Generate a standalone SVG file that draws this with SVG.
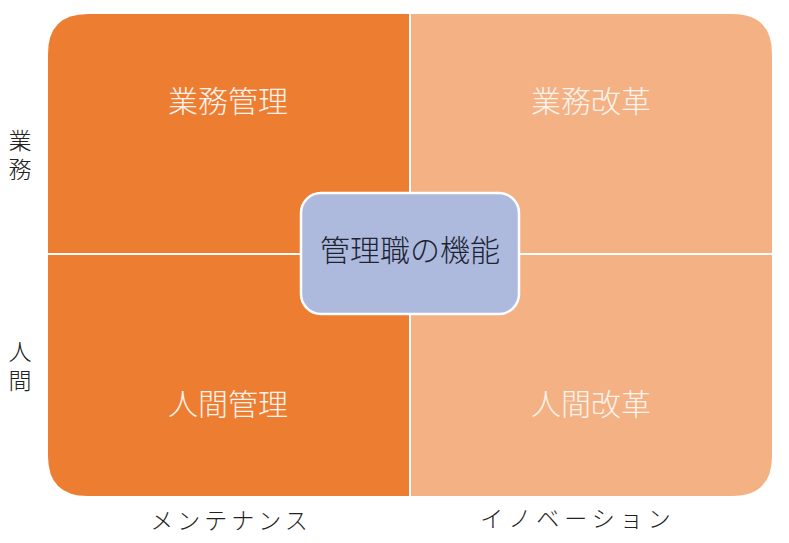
<svg xmlns="http://www.w3.org/2000/svg" width="789" height="543" viewBox="0 0 789 543">
<style>
.q{font-family:"Noto Sans CJK JP","Noto Sans",sans-serif;font-size:30px;font-weight:300;fill:#FDF3EC;text-anchor:middle}
.c{font-family:"Noto Sans CJK JP","Noto Sans",sans-serif;font-size:30px;font-weight:300;fill:#1E2433;text-anchor:middle}
.ax{font-family:"Noto Sans CJK JP","Noto Sans",sans-serif;font-size:23px;font-weight:300;fill:#222;text-anchor:middle}
.v{font-family:"Noto Sans CJK JP","Noto Sans",sans-serif;font-size:23px;font-weight:300;fill:#222;writing-mode:vertical-rl;letter-spacing:6px}
.dk{fill:#ED7D31}
.lt{fill:#F4B183}
</style>
<rect width="789" height="543" fill="#fff"/>
<g id="tl"><path class="dk" d="M48,254 L48,54 Q48,14 88,14 L410,14 L410,254 Z"/><text class="q" x="228" y="112">業務管理</text></g>
<g id="tr"><path class="lt" d="M410,14 L732,14 Q772,14 772,54 L772,254 L410,254 Z"/><text class="q" x="591" y="112">業務改革</text></g>
<g id="bl"><path class="dk" d="M48,254 L410,254 L410,496 L88,496 Q48,496 48,456 Z"/><text class="q" x="228" y="415">人間管理</text></g>
<g id="br"><path class="lt" d="M410,254 L772,254 L772,456 Q772,496 732,496 L410,496 Z"/><text class="q" x="591" y="415">人間改革</text></g>
<g id="connectors"><line x1="410" y1="14" x2="410" y2="496" stroke="#fff" stroke-width="2"/><line x1="48" y1="254" x2="772" y2="254" stroke="#fff" stroke-width="2"/></g>
<g id="center"><rect x="301" y="193" width="218" height="121" rx="20" fill="#ADBADD" stroke="#fff" stroke-width="2.5"/><text class="c" x="410" y="261">管理職の機能</text></g>
<g id="ax-y1"><text class="v" x="20" y="129">業務</text></g>
<g id="ax-y2"><text class="v" x="20" y="340">人間</text></g>
<g id="ax-x1"><text class="ax" x="231" y="529" letter-spacing="4">メンテナンス</text></g>
<g id="ax-x2"><text class="ax" x="578" y="527" letter-spacing="5">イノベーション</text></g>
</svg>
